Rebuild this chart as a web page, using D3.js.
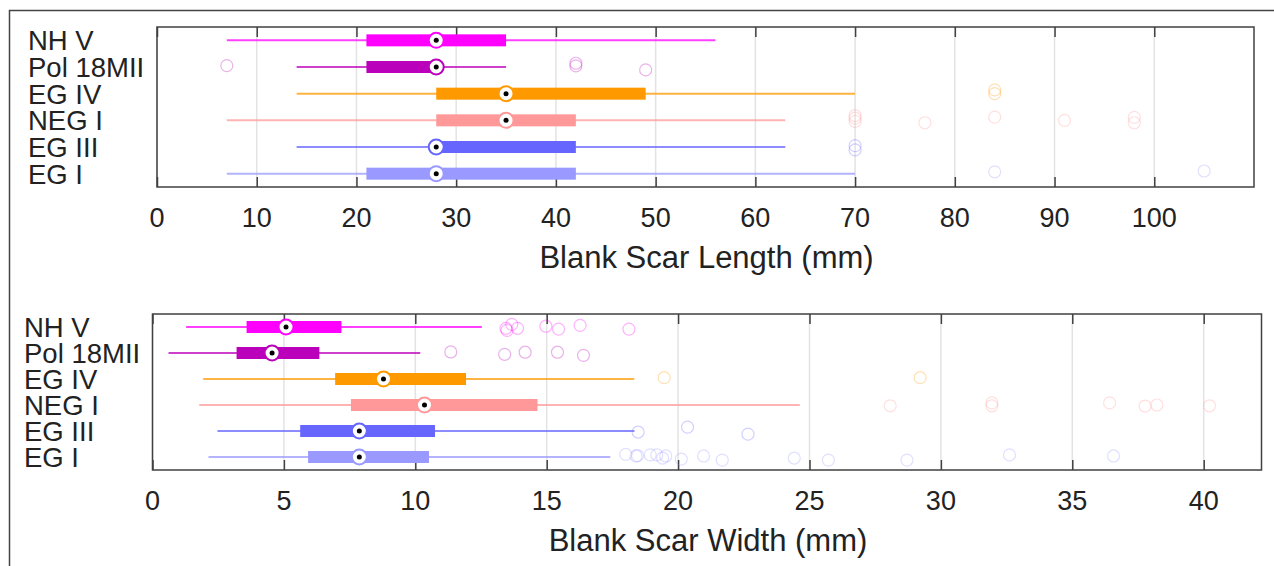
<!DOCTYPE html>
<html>
<head>
<meta charset="utf-8">
<script src="https://cdn.jsdelivr.net/npm/d3@7"></script>
<style>
  body { margin: 0; background: #fff; }
  svg text { font-family: "Liberation Sans", Arial, Helvetica, sans-serif; fill: #222; }
</style>
</head>
<body>
<div id="chart"></div>
<script>
// Categories (top to bottom) and colours
const groups = ["NH V", "Pol 18MII", "EG IV", "NEG I", "EG III", "EG I"];
const colors = ["#ff00ff", "#bb00bb", "#ff9900", "#ff9999", "#6666ff", "#9999ff"];

// Blank scar length (mm): whisker low, Q1, median, Q3, whisker high
const lenLo  = [7, 14, 14, 7, 14, 7];
const lenQ1  = [21, 21, 28, 28, 28, 21];
const lenMed = [28, 28, 35, 35, 28, 28];
const lenQ3  = [35, 28, 49, 42, 42, 42];
const lenHi  = [56, 35, 70, 63, 63, 70];
// outliers: [value, vertical jitter in row units]
const lenOut = [
  [],
  [[7, -0.05], [42, -0.14], [42, -0.04], [49, 0.11]],
  [[84, -0.14], [84, 0]],
  [[70, -0.18], [70, -0.08], [70, 0.04], [77, 0.09], [84, -0.12], [91, 0], [98, -0.11], [98, 0.09]],
  [[70, -0.05], [70, 0.11]],
  [[84, -0.07], [105, -0.1]]
];
const lenTicks = [0, 10, 20, 30, 40, 50, 60, 70, 80, 90, 100];

// Blank scar width (mm)
const widLo  = [1.28, 0.61, 1.93, 1.78, 2.47, 2.13];
const widQ1  = [3.58, 3.2, 6.95, 7.55, 5.62, 5.92];
const widMed = [5.08, 4.55, 8.79, 10.35, 7.87, 7.87];
const widQ3  = [7.19, 6.35, 11.93, 14.65, 10.75, 10.52];
const widHi  = [12.53, 10.19, 18.33, 24.63, 18.34, 17.42];
const widOut = [
  [[13.45, 0.05], [13.67, -0.1], [13.89, 0.05], [13.49, 0.13], [14.97, -0.03], [15.45, 0.08], [16.27, -0.06], [18.13, 0.08]],
  [[11.35, -0.04], [13.4, 0.05], [14.18, -0.03], [15.41, -0.03], [16.4, 0.09]],
  [[19.47, -0.05], [29.21, -0.05]],
  [[28.07, 0.03], [31.94, -0.08], [31.94, 0.03], [36.42, -0.08], [37.77, 0.04], [38.22, 0], [40.22, 0.03]],
  [[18.48, 0.04], [20.36, -0.15], [22.66, 0.12]],
  [[18.01, -0.1], [18.4, -0.04], [18.46, -0.05], [18.94, -0.08], [19.19, -0.08], [19.41, 0.04], [19.53, -0.04],
   [20.12, 0.08], [20.97, -0.04], [21.68, 0.12], [24.42, 0.04], [25.72, 0.12], [28.71, 0.12], [32.61, -0.08], [36.57, -0.04]]
];
const widTicks = [0, 5, 10, 15, 20, 25, 30, 35, 40];

const width = 1274, height = 566;

const svg = d3.select("#chart")
  .append("svg")
  .attr("width", width)
  .attr("height", height);

// partial outer frame (figure border)
svg.append("path")
  .attr("d", "M9.5,566 V10.5 H1274")
  .attr("fill", "none")
  .attr("stroke", "#444")
  .attr("stroke-width", 1.5);

function drawPanel(p) {
  const x = d3.scaleLinear().domain(p.domain).range([p.left, p.right]);
  const y = d3.scaleBand().domain(groups).range([p.top, p.bottom]);
  const bw = y.bandwidth();
  const g = svg.append("g");

  // grid
  g.selectAll(".grid")
    .data(p.ticks)
    .join("line")
    .attr("x1", d => x(d)).attr("x2", d => x(d))
    .attr("y1", p.top).attr("y2", p.bottom)
    .attr("stroke", "#e3e3e3")
    .attr("stroke-width", 1.5);

  // ticks top and bottom (inward)
  const tickLen = 10;
  const axB = d3.axisBottom(x).tickValues(p.ticks).tickSize(-tickLen).tickFormat("");
  const axT = d3.axisTop(x).tickValues(p.ticks).tickSize(-tickLen).tickFormat("");
  g.append("g").attr("transform", `translate(0,${p.bottom})`).call(axB)
    .call(s => s.select(".domain").remove())
    .call(s => s.selectAll("line").attr("stroke", "#404040").attr("stroke-width", 1.5));
  g.append("g").attr("transform", `translate(0,${p.top})`).call(axT)
    .call(s => s.select(".domain").remove())
    .call(s => s.selectAll("line").attr("stroke", "#404040").attr("stroke-width", 1.5));

  // tick labels
  g.selectAll(".tl")
    .data(p.ticks)
    .join("text")
    .attr("x", d => x(d))
    .attr("y", p.bottom + 40)
    .attr("text-anchor", "middle")
    .style("font-size", "27px")
    .text(d => d);

  // axis title
  g.append("text")
    .attr("x", (p.left + p.right) / 2 + 1)
    .attr("y", p.bottom + 81)
    .attr("text-anchor", "middle")
    .style("font-size", "31px")
    .text(p.label);

  // category labels
  g.selectAll(".cl")
    .data(groups)
    .join("text")
    .attr("x", p.labelX)
    .attr("y", d => y(d) + bw / 2 + 10)
    .style("font-size", "27.5px")
    .text(d => d);

  // outliers
  groups.forEach((grp, i) => {
    g.selectAll(null)
      .data(p.out[i])
      .join("circle")
      .attr("cx", d => x(d[0]))
      .attr("cy", d => y(grp) + bw / 2 + d[1] * bw)
      .attr("r", 6)
      .attr("fill", "none")
      .attr("stroke", colors[i])
      .attr("stroke-opacity", 0.3)
      .attr("stroke-width", 1.2);
  });

  // whiskers, boxes, medians
  groups.forEach((grp, i) => {
    const cy = y(grp) + bw / 2;
    g.append("line")
      .attr("x1", x(p.lo[i])).attr("x2", x(p.hi[i]))
      .attr("y1", cy).attr("y2", cy)
      .attr("stroke", colors[i])
      .attr("stroke-opacity", 0.75)
      .attr("stroke-width", 2);
    g.append("rect")
      .attr("x", x(p.q1[i]))
      .attr("width", Math.max(0, x(p.q3[i]) - x(p.q1[i])))
      .attr("y", cy - 6)
      .attr("height", 12)
      .attr("fill", colors[i]);
    g.append("circle")
      .attr("cx", x(p.med[i])).attr("cy", cy)
      .attr("r", 7.5)
      .attr("fill", "#fff")
      .attr("stroke", colors[i])
      .attr("stroke-width", 2);
    g.append("circle")
      .attr("cx", x(p.med[i])).attr("cy", cy)
      .attr("r", 2.5)
      .attr("fill", "#000");
  });

  // axes box
  g.append("rect")
    .attr("x", p.left).attr("y", p.top)
    .attr("width", p.right - p.left)
    .attr("height", p.bottom - p.top)
    .attr("fill", "none")
    .attr("stroke", "#404040")
    .attr("stroke-width", 1.5);
}

drawPanel({
  domain: [0, 110], left: 157, right: 1254, top: 27, bottom: 187,
  ticks: lenTicks, label: "Blank Scar Length (mm)", labelX: 28,
  lo: lenLo, q1: lenQ1, med: lenMed, q3: lenQ3, hi: lenHi, out: lenOut
});

drawPanel({
  domain: [0, 42.2], left: 152.5, right: 1261.5, top: 314, bottom: 470,
  ticks: widTicks, label: "Blank Scar Width (mm)", labelX: 24,
  lo: widLo, q1: widQ1, med: widMed, q3: widQ3, hi: widHi, out: widOut
});
</script>
</body>
</html>
